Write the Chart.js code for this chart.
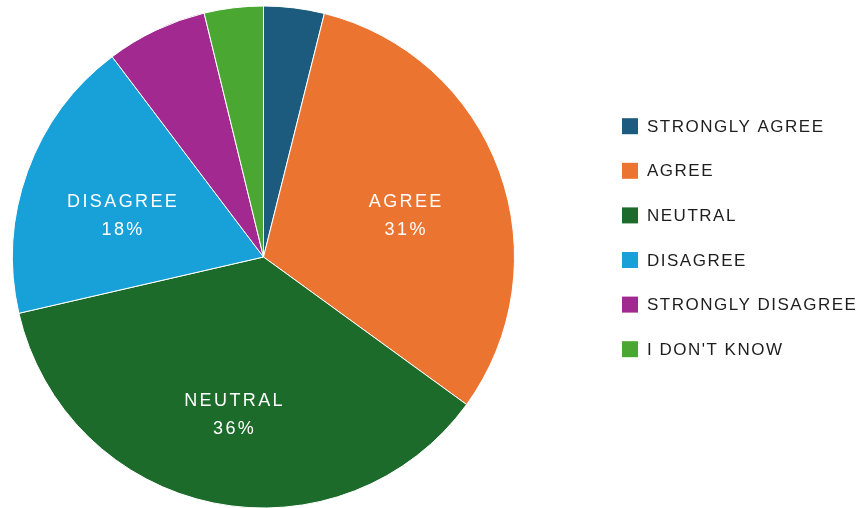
<!DOCTYPE html>
<html>
<head>
<meta charset="utf-8">
<script src="https://cdn.jsdelivr.net/npm/chart.js@4.4.1/dist/chart.umd.min.js"></script>
<style>
  html, body { margin: 0; padding: 0; background: #fff; }
</style>
</head>
<body>
<canvas id="chart" width="865" height="508"></canvas>
<script>
// survey answers, share of respondents in %
var categories = ['STRONGLY AGREE', 'AGREE', 'NEUTRAL', 'DISAGREE', 'STRONGLY DISAGREE', "I DON'T KNOW"];
var shares = [3.9, 31.1, 36.4, 18.3, 6.5, 3.8];
var sliceColors = ['#1c5b7d', '#ec7431', '#1c6b2a', '#18a0d8', '#a1298f', '#4aa832'];

var fontFamily = "'Liberation Sans', Arial, sans-serif";

// white labels inside the big slices
var sliceLabels = {
    id: 'sliceLabels',
    afterDatasetsDraw: function(chart) {
        var ctx = chart.ctx;
        var meta = chart.getDatasetMeta(0);
        var spacing = 2.4;
        ctx.save();
        ctx.font = '18px ' + fontFamily;
        ctx.fillStyle = '#fff';
        ctx.textAlign = 'center';
        ctx.textBaseline = 'middle';
        ctx.letterSpacing = spacing + 'px';
        meta.data.forEach(function(arc, i) {
            if (shares[i] < 10) return;
            var mid = (arc.startAngle + arc.endAngle) / 2;
            var r = arc.outerRadius * 0.6;
            var x = arc.x + Math.cos(mid) * r + spacing / 2;
            var y = arc.y + Math.sin(mid) * r + 10;
            ctx.fillText(categories[i], x, y - 14);
            ctx.fillText(Math.round(shares[i]) + '%', x, y + 14);
        });
        ctx.restore();
    }
};

// legend on the right side
var sideLegend = {
    id: 'sideLegend',
    afterDraw: function(chart) {
        var ctx = chart.ctx;
        var colors = chart.data.datasets[0].backgroundColor;
        var left = 622, top = 126.2, step = 44.6, box = 16;
        ctx.save();
        ctx.font = '17px ' + fontFamily;
        ctx.letterSpacing = '1.5px';
        ctx.textBaseline = 'middle';
        chart.data.labels.forEach(function(label, i) {
            var cy = top + i * step;
            ctx.fillStyle = colors[i];
            ctx.fillRect(left, cy - box / 2, box, box);
            ctx.fillStyle = '#1e1e1e';
            ctx.fillText(label, left + 25, cy + 1);
        });
        ctx.restore();
    }
};

new Chart(document.getElementById('chart'), {
    type: 'pie',
    data: {
        labels: categories,
        datasets: [{
            data: shares,
            backgroundColor: sliceColors,
            borderColor: '#ffffff',
            borderWidth: 1
        }]
    },
    options: {
        responsive: false,
        animation: false,
        devicePixelRatio: 1,
        radius: 251,
        layout: { padding: { left: 12, right: 350, top: 6, bottom: 0 } },
        plugins: {
            legend: { display: false },
            tooltip: { enabled: false }
        }
    },
    plugins: [sliceLabels, sideLegend]
});
</script>
</body>
</html>
